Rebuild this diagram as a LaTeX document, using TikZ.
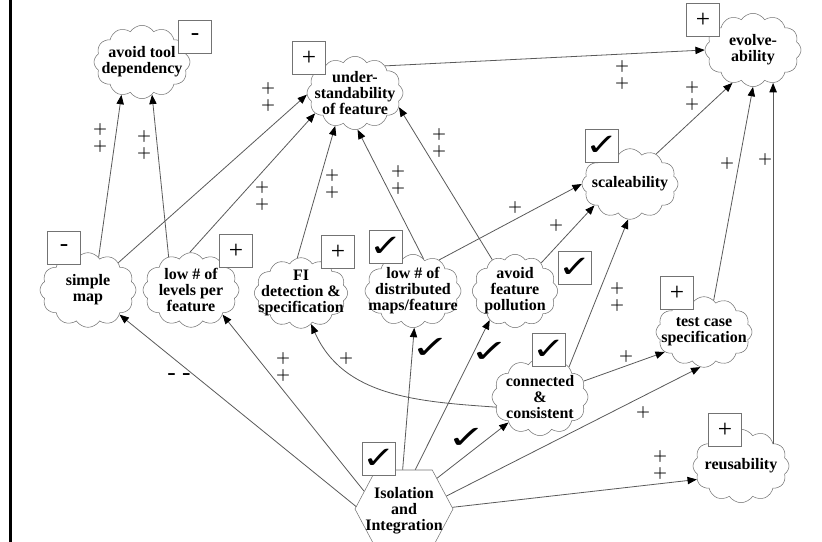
\documentclass[tikz,border=0pt]{standalone}
\usepackage{fontspec}
\setmainfont{Liberation Serif}
\newfontfamily\checkfont{DejaVu Sans}
\usetikzlibrary{arrows.meta, shapes.symbols, calc}

\newcommand{\boxcheck}{\scalebox{1.3}[1]{✓}}
\newcommand{\linkcheck}{\scalebox{1.45}[1]{✓}}

\begin{document}
\begin{tikzpicture}[
  x=0.75pt, y=-0.75pt,
  goal/.style={cloud, cloud puffs=12, cloud puff arc=115, cloud ignores aspect,
               draw=black!55, fill=white, inner sep=0pt,
               minimum width=72pt, minimum height=55pt},
  goaltext/.style={font=\bfseries\fontsize{12}{12}\selectfont, align=center, inner sep=0pt},
  actor/.style={signal, signal to=east and west, signal pointer angle=124,
               draw=black!55, fill=white, inner sep=0pt,
               minimum width=73.5pt, minimum height=58.5pt},
  signbox/.style={draw=black!55, fill=white, minimum size=24.75pt, inner sep=0pt,
               font=\fontsize{19}{19}\selectfont},
  checkbox/.style={signbox, font=\checkfont\fontsize{23}{23}\selectfont},
  signlabel/.style={font=\fontsize{12.9}{13}\selectfont\boldmath, align=center, inner sep=0pt},
  ticklabel/.style={font=\checkfont\fontsize{24}{24}\selectfont, inner sep=0pt},
  arr/.style={-{Triangle[length=7pt, width=5.5pt, color=black]}, draw=black!65, line width=0.6pt},
]
\useasboundingbox (0,0) rectangle (822,542);

% --- frame line on the left ---
\draw[line width=2pt] (10.5,0) -- (10.5,542);

% --- soft goals (clouds), top row ---
\node[goal, label={[goaltext]center:avoid tool\\dependency}] (tool) at (142,62) {};
\node[goal, label={[goaltext]center:under-\\standability\\of feature}] (under) at (355,93) {};
\node[goal, label={[goaltext]center:evolve-\\ability}] (evolve) at (753,50) {};
\node[goal, minimum height=53pt, label={[goaltext]center:scaleability}] (scale) at (630,184) {};

% --- middle row ---
\node[goal, minimum height=56pt, label={[goaltext]center:simple\\map}] (simple) at (88,290) {};
\node[goal, minimum height=56pt, label={[goaltext]center:low \# of\\levels per\\feature}] (levels) at (191,290) {};
\node[goal, minimum width=70pt, minimum height=53pt, label={[goaltext]center:FI\\detection \&\\specification}] (fi) at (301,293) {};
\node[goal, label={[goaltext]center:low \# of\\distributed\\maps/feature}] (dist) at (413,291) {};
\node[goal, minimum width=64pt, label={[goaltext]center:avoid\\feature\\pollution}] (poll) at (515,291) {};

% --- lower row ---
\node[goal, minimum height=58pt, label={[goaltext]center:connected\\\&\\consistent}] (conn) at (540,397) {};
\node[goal, minimum height=53pt, label={[goaltext]center:test case\\specification}] (test) at (704,332) {};
\node[goal, label={[goaltext]center:reusability}] (reuse) at (741,466) {};
\node[actor, label={[goaltext, yshift=-1.5pt]center:Isolation\\and\\Integration}] (iso) at (404,509) {};

% --- evaluation marks ---
\node[signbox] (toolM) at (195,37) {-};
\node[signbox] (underM) at (309,58) {+};
\node[signbox] (evolveM) at (703,20) {+};
\node[checkbox] (scaleM) at (602,146) {\boxcheck};
\node[signbox] (simpleM) at (64,248) {-};
\node[signbox] (levelsM) at (236,251) {+};
\node[signbox] (fiM) at (338,252) {+};
\node[checkbox] (distM) at (386,247) {\boxcheck};
\node[checkbox] (pollM) at (575,268) {\boxcheck};
\node[checkbox] (connM) at (549,350) {\boxcheck};
\node[signbox] (testM) at (677,293) {+};
\node[signbox] (reuseM) at (725,430) {+};
\node[checkbox] (isoM) at (379,459) {\boxcheck};

% --- contributions to avoid tool dependency ---
\draw[arr] (simple.72) -- (tool.238);
\draw[arr] (levels.124) -- (tool.287);

% --- contributions to understandability ---
\draw[arr] (simple.42) -- (under.182);
\draw[arr] (levels.92) -- (under.207);
\draw[arr] (fi.96) -- (under.239);
\draw[arr] (dist.72) -- (under.274);
\draw[arr] (poll.126) -- (under.342);

% --- contributions to evolve-ability ---
\draw[arr] (under.42) -- (evolve.180);
\draw[arr] (scale.49) -- (evolve.238);
\draw[arr] (test.73) -- (evolve.270);
\draw[arr] (reuse.35) -- (reuse.35 |- evolve.300);

% --- contributions to scaleability ---
\draw[arr] (dist.50) -- (scale.180);
\draw[arr] (poll.47) -- (scale.211);
\draw[arr] (conn.46) -- (scale.267);

% --- out of connected & consistent ---
\draw[arr] (conn.20) -- (test.207);
\draw[arr] (conn.193) to[out=176, in=294] (fi.288);

% --- out of Isolation and Integration ---
\draw[arr] (iso.177) -- (simple.322);
\draw[arr] (iso.156) -- (levels.322);
\draw[arr] (iso.92) -- (dist.272);
\draw[arr] (iso.74) -- (poll.229);
\draw[arr] (iso.43) -- (conn.219);
\draw[arr] (iso.17) -- (test.264);
\draw[arr] (iso.2) -- (reuse.197);

% --- link labels ---
\node[signlabel] (pA) at (100,138) {$+$\\$+$};
\node[signlabel] (pB) at (144,145) {$+$\\$+$};
\node[signlabel] (pC) at (268,97) {$+$\\$+$};
\node[signlabel] (pD) at (262,196) {$+$\\$+$};
\node[signlabel] (pE) at (332,184) {$+$\\$+$};
\node[signlabel] (pF) at (398,180) {$+$\\$+$};
\node[signlabel] (pG) at (439,143) {$+$\\$+$};
\node[signlabel] (pH) at (622,75) {$+$\\$+$};
\node[signlabel] (pI) at (692,96) {$+$\\$+$};
\node[signlabel] (pJ) at (727,163) {$+$};
\node[signlabel] (pK) at (765,160) {$+$};
\node[signlabel] (pL) at (515,207) {$+$};
\node[signlabel] (pM) at (556,225) {$+$};
\node[signlabel] (pN) at (617,297) {$+$\\$+$};
\node[signlabel] (pO) at (626,356) {$+$};
\node[signlabel] (pP) at (643,412) {$+$};
\node[signlabel] (pQ) at (660,465) {$+$\\$+$};
\node[signlabel] (pU) at (346,358) {$+$};
\node[signlabel] (pV) at (283,367) {$+$\\$+$};
\node[signbox, draw=none, fill=none] (pW) at (179,377) {- -};
\node[ticklabel] (tR) at (467,438) {\linkcheck};
\node[ticklabel] (tS) at (490,352) {\linkcheck};
\node[ticklabel] (tT) at (431,348) {\linkcheck};

\end{tikzpicture}
\end{document}
